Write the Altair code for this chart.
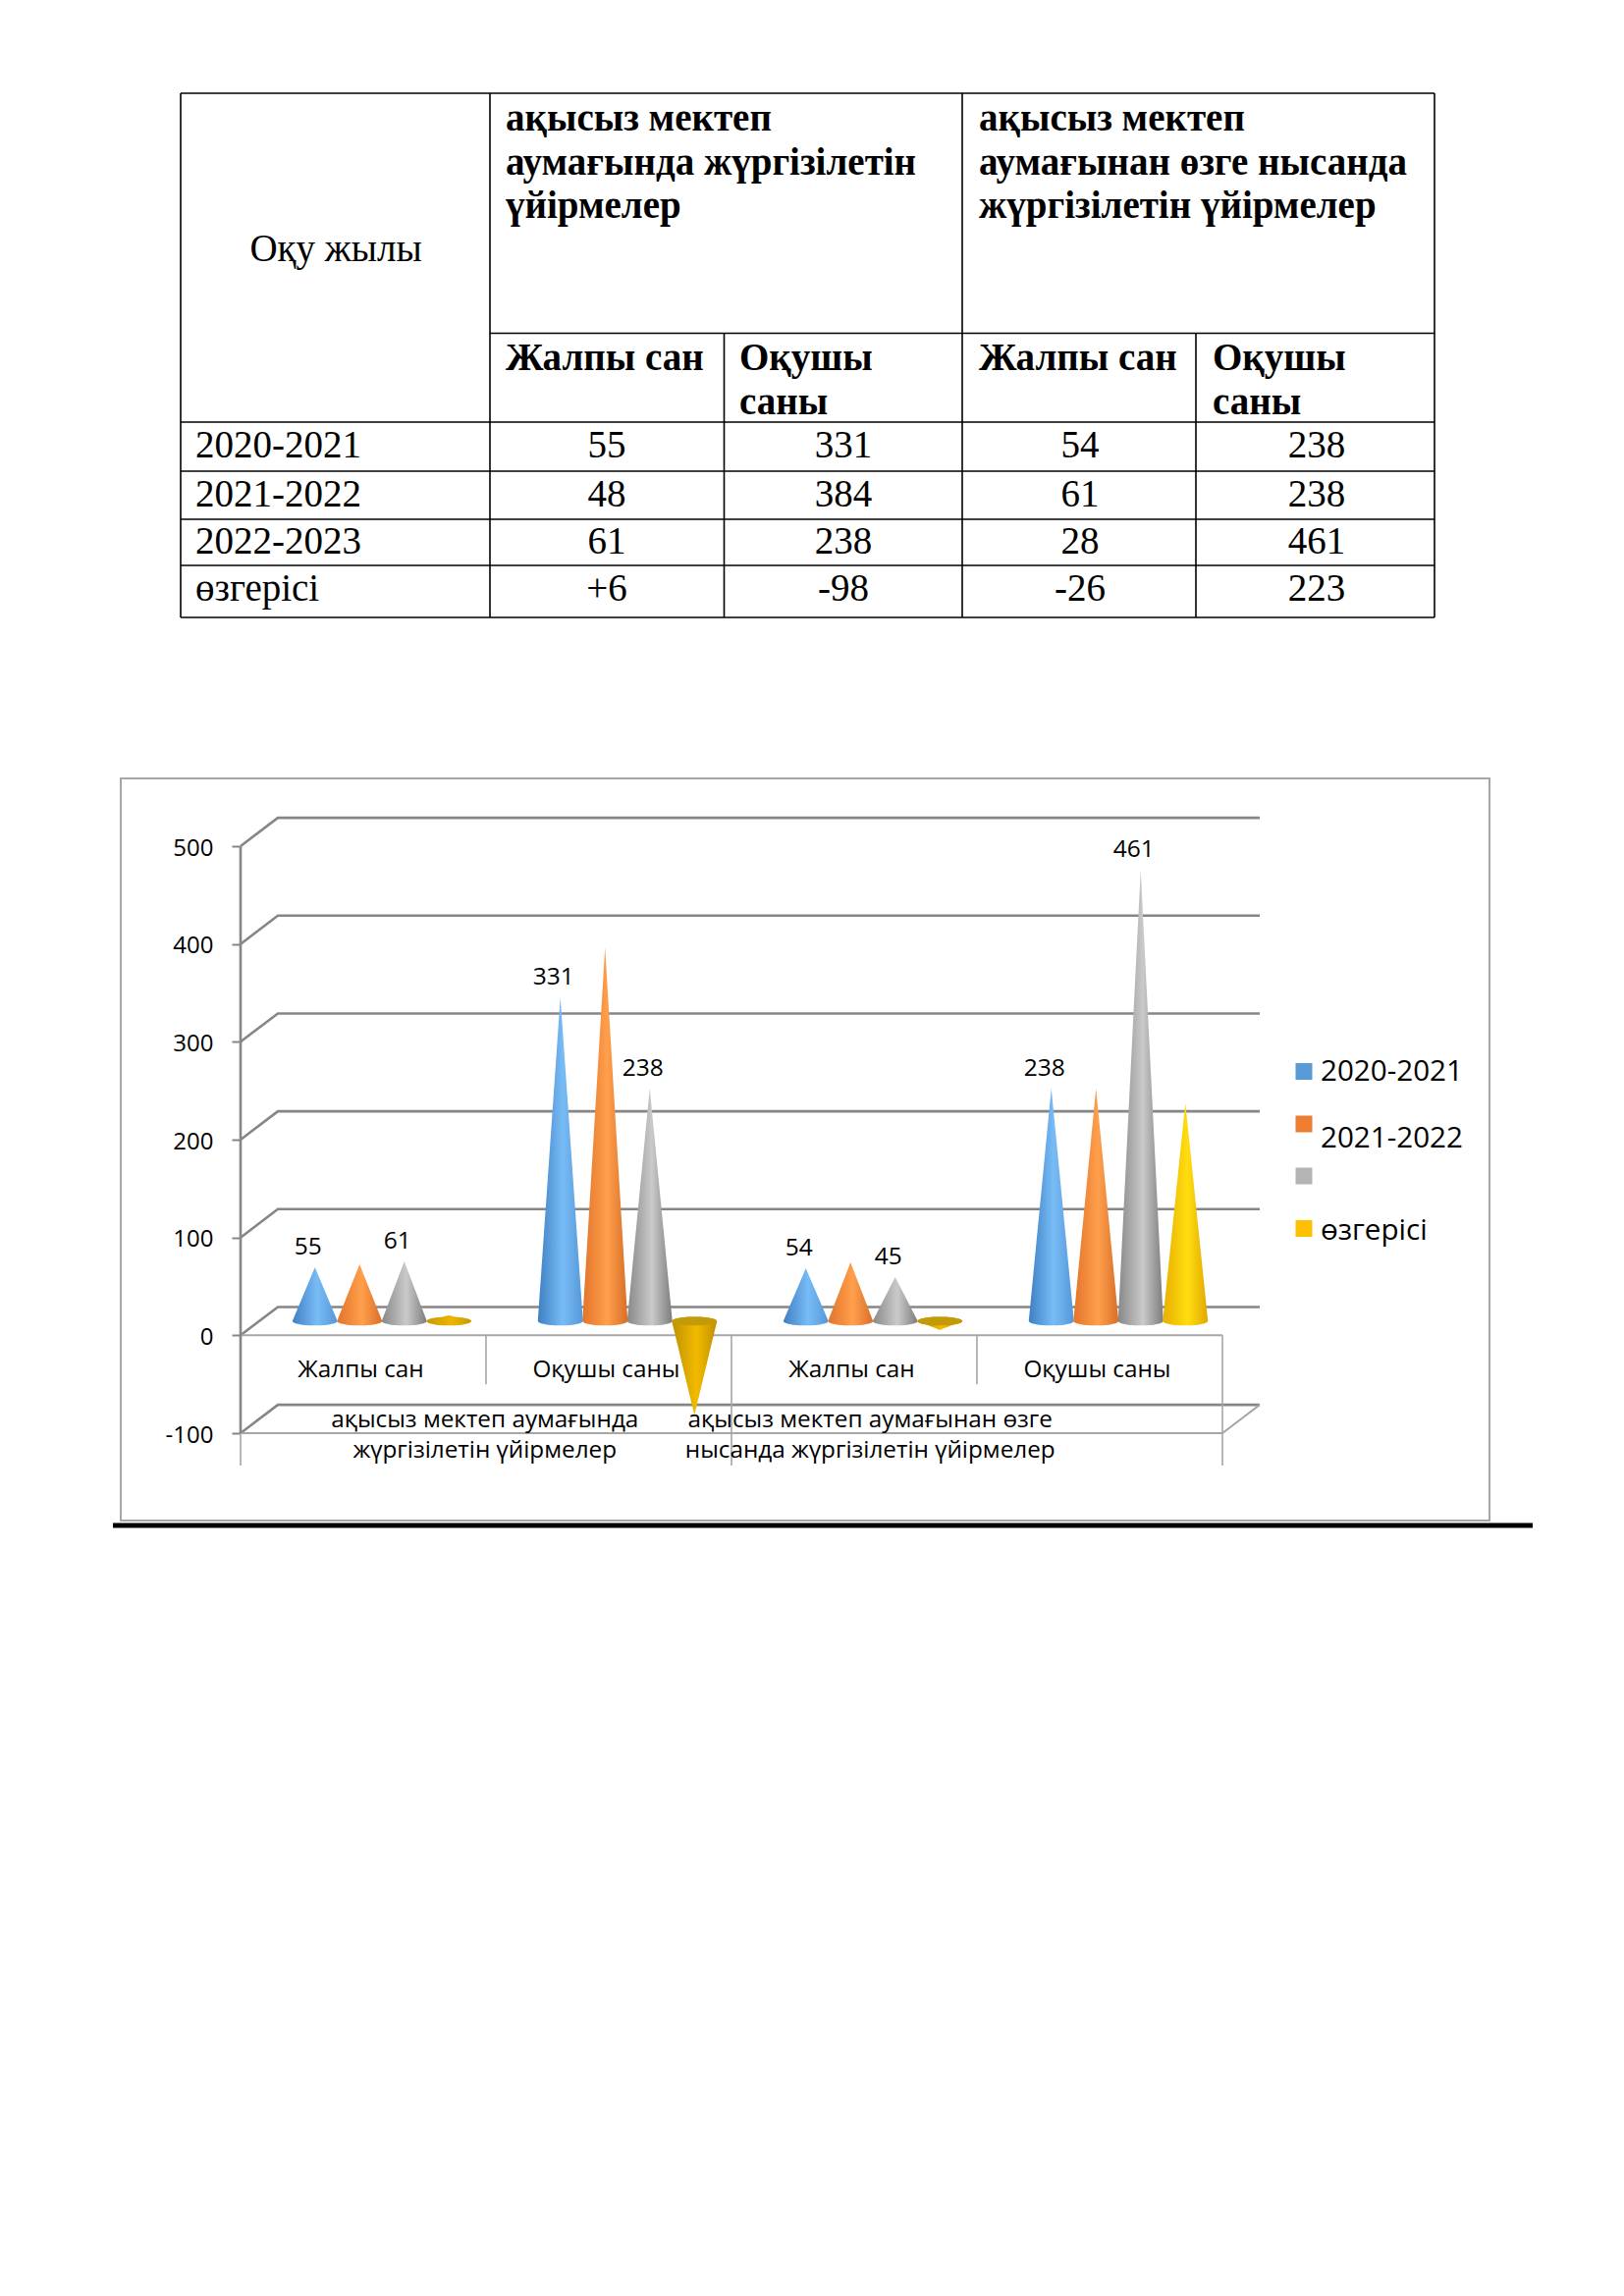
import altair as alt
import numpy as np
import pandas as pd

# ---------- table content ----------
TABLE_ROWS = ["2020-2021", "2021-2022", "2022-2023", "өзгерісі"]
TABLE_C1 = ["55", "48", "61", "+6"]
TABLE_C2 = ["331", "384", "238", "-98"]
TABLE_C3 = ["54", "61", "28", "-26"]
TABLE_C4 = ["238", "238", "461", "223"]
HEAD_A = ["ақысыз мектеп", "аумағында жүргізілетін", "үйірмелер"]
HEAD_B = ["ақысыз мектеп", "аумағынан өзге нысанда", "жүргізілетін үйірмелер"]
SUB_1 = ["Жалпы сан"]
SUB_2 = ["Оқушы", "саны"]

# ---------- chart content ----------
CATS = ["Жалпы сан", "Оқушы саны", "Жалпы сан", "Оқушы саны"]
GROUP_LINES = [("ақысыз мектеп аумағында", "жүргізілетін үйірмелер"),
               ("ақысыз мектеп аумағынан өзге", "нысанда жүргізілетін үйірмелер")]
S_2020 = [55, 331, 54, 238]
S_2021 = [58, 382, 60, 238]
S_2022 = [61, 238, 45, 461]
S_CHG = [6, -96, -9, 223]
TICKS = [-100, 0, 100, 200, 300, 400, 500]
LEGEND = ["2020-2021", "2021-2022", "", "өзгерісі"]
LEGEND_COLORS = ["#5b9bd5", "#ed7d31", "#b4b4b4", "#ffc000"]

# ---------- layout ----------
PAGE_W, PAGE_H = 1638, 2323
COLS = [184, 499, 737.5, 980, 1218, 1461]
ROWS = [95, 339.5, 430, 480, 529, 576, 629]
DEPTH_X, DEPTH_Y = 0.152, 29.0
CONE_HALF, CONE_B = 0.092, 4.5
SERIES_OFFSET = [-0.273, -0.091, 0.091, 0.273]
SANS = "Open Sans"
SERIF = "Liberation Serif"
GRID = "#868686"
LIGHT = "#a6a6a6"

pg_x = alt.Scale(domain=[8, 1646], range=[0, PAGE_W])
pg_y = alt.Scale(domain=[8, 2331], range=[0, PAGE_H])
ch_x = alt.Scale(domain=[0, 4], range=[237, 1237])
ch_y = alt.Scale(domain=[-100, 500], range=[1452, 854], nice=False, zero=False)


def PX(f="x"):
    return alt.X(f"{f}:Q", scale=pg_x, axis=None)


def PY(f="y"):
    return alt.Y(f"{f}:Q", scale=pg_y, axis=None)


def CX(f="x"):
    return alt.X(f"{f}:Q", scale=ch_x, axis=None)


def CY(f="y"):
    return alt.Y(f"{f}:Q", scale=ch_y, axis=None)


layers = []


# ---------- table ----------
def page_text(rows, size, weight="normal", align="left", font=SERIF, color="black"):
    return alt.Chart(pd.DataFrame(rows, columns=["x", "y", "t"])).mark_text(
        font=font, fontSize=size, fontWeight=weight, align=align, baseline="middle", color=color
    ).encode(x=PX(), y=PY(), text="t:N")


h_rules = [(COLS[0], COLS[-1], ROWS[0]), (COLS[1], COLS[-1], ROWS[1])] + [
    (COLS[0], COLS[-1], r) for r in ROWS[2:]
]
layers.append(alt.Chart(pd.DataFrame(h_rules, columns=["x", "x2", "y"])).mark_rule(
    color="black", strokeWidth=1.6).encode(x=PX(), x2="x2:Q", y=PY()))
v_rules = [(COLS[0], ROWS[0], ROWS[-1]), (COLS[1], ROWS[0], ROWS[-1]), (COLS[3], ROWS[0], ROWS[-1]),
           (COLS[5], ROWS[0], ROWS[-1]), (COLS[2], ROWS[1], ROWS[-1]), (COLS[4], ROWS[1], ROWS[-1])]
layers.append(alt.Chart(pd.DataFrame(v_rules, columns=["x", "y", "y2"])).mark_rule(
    color="black", strokeWidth=1.6).encode(x=PX(), y=PY(), y2="y2:Q"))

head_y = [121, 166, 210]
bold = [(515, y, t) for y, t in zip(head_y, HEAD_A)] + [(997, y, t) for y, t in zip(head_y, HEAD_B)]
bold += [(515, 365, SUB_1[0]), (997, 365, SUB_1[0])]
bold += [(xx, y, t) for xx in (753, 1235) for y, t in zip((365, 410), SUB_2)]
layers.append(page_text(bold, 39, weight="bold"))
layers.append(page_text([(342, 254, "Оқу жылы")], 39, align="center"))
row_y = [454, 504, 552, 600]
layers.append(page_text([(199, y, t) for y, t in zip(row_y, TABLE_ROWS)], 39))
cells = []
for xx, col in zip((618, 859, 1100, 1341), (TABLE_C1, TABLE_C2, TABLE_C3, TABLE_C4)):
    cells += [(xx, y, t) for y, t in zip(row_y, col)]
layers.append(page_text(cells, 39, align="center"))

# ---------- chart frame ----------
layers.append(alt.Chart(pd.DataFrame([(123, 1517, 793, 1549)], columns=["x", "x2", "y", "y2"])).mark_rect(
    fillOpacity=0, stroke=LIGHT, strokeWidth=2).encode(x=PX(), x2="x2:Q", y=PY(), y2="y2:Q"))
layers.append(alt.Chart(pd.DataFrame([(115, 1561, 1554)], columns=["x", "x2", "y"])).mark_rule(
    color="black", strokeWidth=5).encode(x=PX(), x2="x2:Q", y=PY()))

# ---------- 3D walls ----------
wall = []
for v in TICKS:
    wall += [(v, 0, 0, v), (v, 1, DEPTH_X, v + DEPTH_Y), (v, 2, 4 + DEPTH_X, v + DEPTH_Y)]
layers.append(alt.Chart(pd.DataFrame(wall, columns=["k", "o", "x", "y"])).mark_line(
    color=GRID, strokeWidth=2.6).encode(x=CX(), y=CY(), detail="k:N", order="o:Q"))
plane = [(0, -100), (4, -100), (4 + DEPTH_X, -100 + DEPTH_Y)]
layers.append(alt.Chart(pd.DataFrame(plane, columns=["x", "y"])).mark_line(
    color=LIGHT, strokeWidth=2).encode(x=CX(), y=CY(), order="x:Q"))
layers.append(alt.Chart(pd.DataFrame([(0, 4, 0)], columns=["x", "x2", "y"])).mark_rule(
    color=LIGHT, strokeWidth=2).encode(x=CX(), x2="x2:Q", y=CY()))
seps = [(1, 0, -50), (2, 0, -133), (3, 0, -50), (4, 0, -133), (0, -100, -133)]
layers.append(alt.Chart(pd.DataFrame(seps, columns=["x", "y", "y2"])).mark_rule(
    color=LIGHT, strokeWidth=1.6).encode(x=CX(), y=CY(), y2="y2:Q"))

# value axis
layers.append(alt.Chart(pd.DataFrame({"x": [0, 0], "y": [-100, 500]})).mark_line(
    color=GRID, strokeWidth=2.6).encode(
    x=CX(),
    y=alt.Y("y:Q", scale=ch_y, axis=alt.Axis(
        values=TICKS, title=None, grid=False, domain=False, offset=-236, zindex=1,
        tickColor=GRID, tickWidth=2, tickSize=8, labelPadding=19, labelOffset=2,
        labelExpr="'' + datum.value",
        labelFont=SANS, labelFontSize=24, labelColor="black")),
))


# ---------- category labels ----------
def chart_text(rows, size=24.3):
    return alt.Chart(pd.DataFrame(rows, columns=["x", "y", "t"])).mark_text(
        font=SANS, fontSize=size, align="center", baseline="middle", color="black"
    ).encode(x=CX(), y=CY(), text="t:N")


layers.append(chart_text([(i + 0.49, -36, c) for i, c in enumerate(CATS)]))
group_rows = []
for xc, (a, b) in zip((0.995, 2.565), GROUP_LINES):
    group_rows += [(xc, -87, a), (xc, -118, b)]
layers.append(chart_text(group_rows))


# ---------- cones ----------
def grad(dark, light, dark2):
    return alt.LinearGradient(
        gradient="linear", x1=0, x2=1, y1=0, y2=0,
        stops=[alt.GradientStop(color=dark, offset=0),
               alt.GradientStop(color=light, offset=0.55),
               alt.GradientStop(color=dark2, offset=1)])


def cone_frame(values, s_idx):
    rows = []
    for c, v in enumerate(values):
        xc = c + 0.5 + DEPTH_X / 2 + SERIES_OFFSET[s_idx]
        for t in np.linspace(-1, 1, 41):
            edge = CONE_B * np.sqrt(max(0.0, 1 - t * t))
            slope = v * (1 - abs(t))
            rows.append((c, xc + t * CONE_HALF, DEPTH_Y / 2 + max(slope, edge), DEPTH_Y / 2 + min(slope, -edge)))
    return pd.DataFrame(rows, columns=["c", "x", "y", "y2"])


SERIES = [S_2020, S_2021, S_2022]
GRADS = [grad("#3f7fc2", "#78bcf6", "#5597d8"),
         grad("#e2742a", "#ff9f4c", "#d86f28"),
         grad("#888888", "#cacaca", "#7c7c7c")]
for i, (vals, g) in enumerate(zip(SERIES, GRADS)):
    layers.append(alt.Chart(cone_frame(vals, i)).mark_area(fill=g).encode(
        x=CX(), y=CY(), y2="y2:Q", detail="c:N"))

chg = cone_frame(S_CHG, 3)
chg_pos = chg[chg["c"].isin([0, 3])]
chg_neg = chg[chg["c"].isin([1, 2])]
layers.append(alt.Chart(chg_pos[chg_pos["c"] == 3]).mark_area(fill=grad("#e8ae00", "#ffdd10", "#e0a800")).encode(
    x=CX(), y=CY(), y2="y2:Q", detail="c:N"))
layers.append(alt.Chart(chg_pos[chg_pos["c"] == 0]).mark_area(fill=grad("#c99a00", "#edb400", "#c99a00")).encode(
    x=CX(), y=CY(), y2="y2:Q", detail="c:N"))
layers.append(alt.Chart(chg_neg).mark_area(fill=grad("#bf9000", "#f2bb00", "#bf9000")).encode(
    x=CX(), y=CY(), y2="y2:Q", detail="c:N"))
disc_rows = []
for c in chg_neg["c"].unique():
    xc = c + 0.5 + DEPTH_X / 2 + SERIES_OFFSET[3]
    for t in np.linspace(-1, 1, 41):
        e = CONE_B * np.sqrt(1 - t * t)
        disc_rows.append((c, xc + t * CONE_HALF, DEPTH_Y / 2 + e, DEPTH_Y / 2 - e))
layers.append(alt.Chart(pd.DataFrame(disc_rows, columns=["c", "x", "y", "y2"])).mark_area(fill="#c59a08").encode(
    x=CX(), y=CY(), y2="y2:Q", detail="c:N"))

# ---------- value labels (blue and grey series only) ----------
lab = []
for s_idx, vals in ((0, S_2020), (2, S_2022)):
    for c, v in enumerate(vals):
        lab.append((c + 0.5 + DEPTH_X / 2 + SERIES_OFFSET[s_idx], DEPTH_Y / 2 + v, str(v)))
layers.append(alt.Chart(pd.DataFrame(lab, columns=["x", "y", "t"])).mark_text(
    font=SANS, fontSize=24.5, dx=-7, dy=-20, align="center", baseline="middle", color="black"
).encode(x=CX(), y=CY(), text="t:N"))

# ---------- legend ----------
leg_sq = pd.DataFrame({"x": [1328] * 4, "y": [1091.5, 1145, 1198, 1251.5], "c": LEGEND_COLORS})
layers.append(alt.Chart(leg_sq).mark_square(size=289, opacity=1, filled=True).encode(
    x=PX(), y=PY(), color=alt.Color("c:N", scale=None)))
leg_txt = [(1345, y, t) for y, t in zip((1092, 1159.5, 1198, 1254), LEGEND) if t]
layers.append(page_text(leg_txt, 29.6, font=SANS))

chart = alt.layer(*layers).resolve_scale(x="independent", y="independent").properties(
    width=PAGE_W, height=PAGE_H, padding=0, background="white",
    autosize=alt.AutoSizeParams(type="none"),
).configure_view(stroke=None)

chart.save("out.html", embed_options={"renderer": "svg", "actions": False})
